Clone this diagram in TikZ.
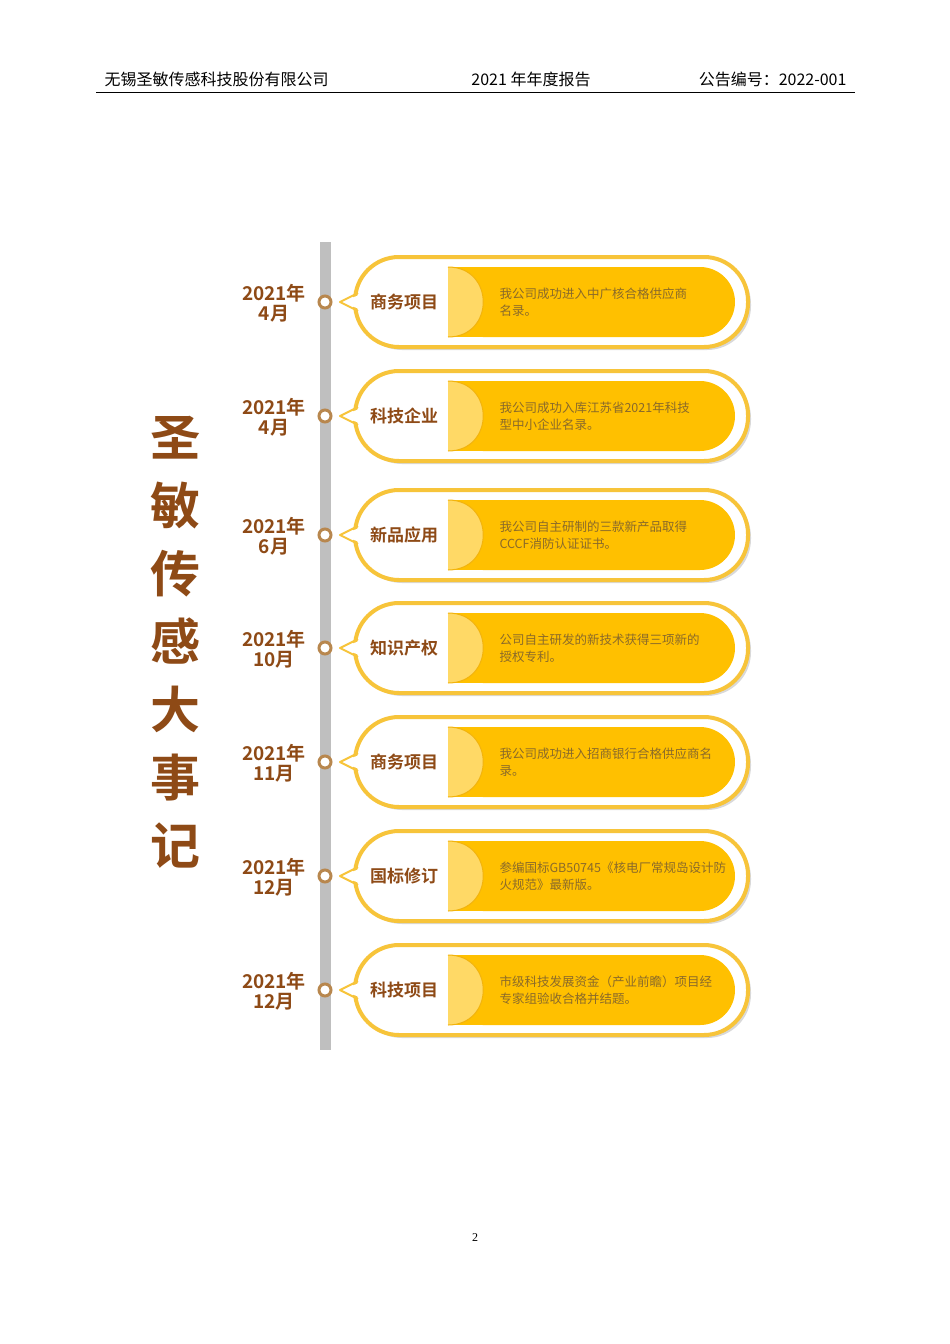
\documentclass[tikz,border=0pt]{standalone}
\usepackage{fontspec}
\setmainfont{Liberation Serif}
\newfontfamily\cjk{Noto Sans CJK SC}
\newfontfamily\cjkb{Noto Sans CJK SC Bold}
\definecolor{brn}{HTML}{8E4A16}
\definecolor{ring}{HTML}{B8874E}
\definecolor{gold}{HTML}{FFC000}
\definecolor{rim}{HTML}{F7C43A}
\definecolor{lite}{HTML}{FFD966}
\definecolor{txt}{HTML}{8A6A2A}
\newcommand{\evrow}[7]{%
  \fill[black!15,rounded corners=44pt] (358,#1-42) rectangle (751,#1+48);
  \draw[rim,line width=4pt,fill=white,rounded corners=44pt] (355,#1-45) rectangle (748,#1+45);
  \fill[gold,rounded corners=35pt] (448,#1-35) rectangle (735,#1+35);
  \fill[gold] (448,#1-35) rectangle (490,#1+35);
  \fill[lite] (448,#1-35) .. controls (495,#1-35) and (495,#1+35) .. (448,#1+35) -- cycle;
  \draw[gold!80!brown,line width=1pt] (448,#1-35) .. controls (495,#1-35) and (495,#1+35) .. (448,#1+35);
  \fill[white] (368,#1-10) -- (340,#1) -- (368,#1+10) -- cycle;
  \draw[rim,line width=2pt,line join=round] (358,#1-9) -- (340,#1) -- (358,#1+9);
  \node[draw=ring,fill=white,circle,line width=3pt,minimum size=12pt,inner sep=0pt] (c#7) at (325,#1) {};
  \node[font=\cjkb\fontsize{19}{19}\selectfont,text=brn,align=center,anchor=center] (d#7) at (274,#1+1) {#2\\[1pt]#3};
  \node[font=\cjkb\fontsize{17}{17}\selectfont,text=brn] (l#7) at (404,#1) {#4};
  \node[font=\cjk\fontsize{12.5}{17}\selectfont,text=txt,align=left,anchor=west] (t#7) at (496,#1) {#5\\#6};
}
\begin{document}
\begin{tikzpicture}[x=1pt,y=-1pt]
\useasboundingbox (0,0) rectangle (950,1344);
\fill[white] (0,0) rectangle (950,1344);
\node[font=\cjk\fontsize{16}{16}\selectfont,anchor=west] (h1) at (101,79) {无锡圣敏传感科技股份有限公司};
\node[font=\cjk\fontsize{16}{16}\selectfont] (h2) at (531,79) {2021 年年度报告};
\node[font=\cjk\fontsize{16}{16}\selectfont,anchor=east] (h3) at (850,79) {公告编号：2022-001};
\draw[line width=0.8pt] (96,92) -- (855,92);
\fill[black!25] (320,242) rectangle (331,1050);
\node[font=\cjkb\fontsize{50}{68}\selectfont,text=brn,align=center] (title) at (175,642) {圣\\敏\\传\\感\\大\\事\\记};
\evrow{302}{2021年}{4月}{商务项目}{我公司成功进入中广核合格供应商}{名录。}{1}
\evrow{416}{2021年}{4月}{科技企业}{我公司成功入库江苏省2021年科技}{型中小企业名录。}{2}
\evrow{535}{2021年}{6月}{新品应用}{我公司自主研制的三款新产品取得}{CCCF消防认证证书。}{3}
\evrow{648}{2021年}{10月}{知识产权}{公司自主研发的新技术获得三项新的}{授权专利。}{4}
\evrow{762}{2021年}{11月}{商务项目}{我公司成功进入招商银行合格供应商名}{录。}{5}
\evrow{876}{2021年}{12月}{国标修订}{参编国标GB50745《核电厂常规岛设计防}{火规范》最新版。}{6}
\evrow{990}{2021年}{12月}{科技项目}{市级科技发展资金（产业前瞻）项目经}{专家组验收合格并结题。}{7}
\node[font=\fontsize{12}{12}\selectfont] (pg) at (475,1238) {2};
\end{tikzpicture}
\end{document}
